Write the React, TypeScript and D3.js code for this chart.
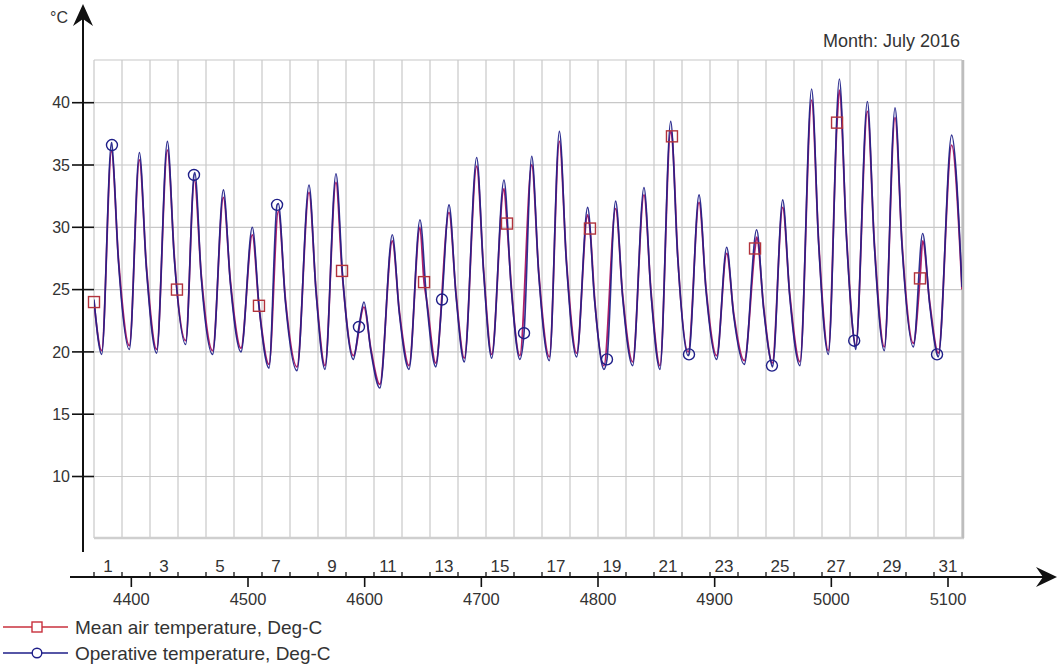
import * as d3 from "d3";

// hour-of-year where July 2016 starts (leap year: 182 days * 24)
const monthStartHour = 4368;
const monthEndHour = 5112;

const yTicks = [10, 15, 20, 25, 30, 35, 40];
const hourTicks = [4400, 4500, 4600, 4700, 4800, 4900, 5000, 5100];
const dayLabels = [1, 3, 5, 7, 9, 11, 13, 15, 17, 19, 21, 23, 25, 27, 29, 31];

// operative temperature: troughs, peaks and falling-limb points (hours since July 1)
const operativeHours = [
  0, 6.6, 15, 21, 30.3, 38.9, 44.9, 53.7, 62.9, 68.9, 78.6, 86.4, 92, 101.7, 110.9, 116.9,
  126, 135.7, 141.7, 150, 158, 164, 174, 184.3, 190.3, 198, 207.4, 213.4, 222.3, 231.4, 237.4,
  245, 255.7, 261.7, 270, 279.4, 285.4, 292.9, 304.3, 310.3, 317.4, 328, 334, 340.9, 351.4,
  357.4, 365, 375.2, 381.2, 390.3, 398.9, 404.9, 413.7, 423.1, 429.1, 437.1, 447.1, 453.1,
  461.7, 471.4, 477.4, 485.1, 494.3, 500.3, 509.4, 518.6, 524.6, 533.7, 542.3, 548.3, 557.4,
  568, 574, 581.6, 590.3, 596.3, 605.1, 615.1, 621.1, 629.4, 638.9, 644.9, 652.9, 662.9,
  668.9, 677.4, 686.6, 692.6, 702.3, 710.3, 716.3, 723.7, 735.1, 744,
];
const operativeTemps = [
  24.2, 19.8, 36.8, 27.2, 20.2, 36.0, 26.7, 19.9, 36.9, 27.4, 20.6, 34.4, 25.9, 19.8, 33.0, 25.5,
  20.0, 30.0, 23.4, 18.7, 31.9, 24.1, 18.5, 33.4, 24.8, 18.6, 34.3, 25.7, 19.4, 24.0, 20.0,
  17.1, 29.4, 23.1, 18.6, 30.6, 23.8, 18.8, 31.8, 24.5, 19.2, 35.6, 26.3, 19.5, 33.8,
  25.4, 19.4, 35.7, 26.2, 19.3, 37.7, 27.2, 19.6, 31.6, 24.1, 18.6, 32.1, 24.4,
  18.9, 33.2, 24.7, 18.6, 38.5, 27.6, 19.7, 32.6, 24.9, 19.4, 28.4, 22.9, 19.0,
  29.8, 23.4, 18.8, 32.2, 24.5, 18.9, 41.1, 28.7, 19.8, 41.9, 29.3, 20.2, 40.1,
  28.5, 20.1, 39.6, 28.5, 20.4, 29.5, 23.8, 19.6, 37.4, 25.2,
];
const operativeMarkerHours = [15.4, 85.7, 156.9, 227.1, 298.3, 368.6, 439.7, 510, 581.1, 651.6, 722.6];
const operativeMarkerTemps = [36.6, 34.2, 31.8, 22.0, 24.2, 21.5, 19.4, 19.8, 18.9, 20.9, 19.8];

// mean air temperature
const airHours = [
  6.6, 15, 21, 30.3, 38.9, 44.9, 53.7, 62.9, 68.9, 78.6, 86, 92, 101.7, 110.9, 116.9,
  126, 135.7, 150, 158, 164, 174, 184.3, 190.3, 198, 207.4, 222.3, 231.4, 237.4,
  245, 255.7, 261.7, 270, 279.4, 285.4, 292.9, 304.3, 310.3, 317.4, 328, 334, 340.9, 351.4,
  357.4, 365, 375.2, 381.2, 390.3, 398.9, 404.9, 413.7, 423.1, 429.1, 437.1, 447.1, 453.1,
  461.7, 471.4, 477.4, 485.1, 494.3, 500.3, 509.4, 518.6, 524.6, 533.7, 542.3, 548.3, 557.4,
  568, 574, 581.4, 590.3, 596.3, 605.1, 615.1, 621.1, 629.4, 638.9, 644.9, 652.9, 662.9,
  668.9, 677.4, 686.6, 692.6, 702.3, 710.3, 716.3, 723.7, 735.1, 744,
];
const airTemps = [
  20.1, 36.1, 27.4, 20.5, 35.4, 26.9, 20.2, 36.2, 27.6, 20.9, 33.8, 26.1, 20.1, 32.4, 25.7,
  20.3, 29.4, 19.0, 31.3, 24.3, 18.8, 32.8, 25.0, 18.9, 33.6, 19.7, 23.6, 20.2,
  17.4, 28.9, 23.3, 18.9, 30.0, 24.0, 19.1, 31.2, 24.7, 19.5, 34.9, 26.5, 19.8, 33.1,
  25.6, 19.7, 35.0, 26.4, 19.6, 36.9, 27.4, 19.9, 31.0, 24.3, 18.9, 31.5, 24.6,
  19.2, 32.6, 24.9, 18.9, 37.7, 27.8, 20.0, 32.0, 25.1, 19.7, 27.9, 23.1, 19.3,
  29.2, 23.6, 19.1, 31.6, 24.7, 19.2, 40.2, 28.9, 20.1, 41.0, 29.5, 20.5, 39.3,
  28.7, 20.4, 38.8, 28.7, 20.7, 28.9, 24.0, 19.9, 36.6, 25.0,
];
const airMarkerHours = [0, 71.1, 141.4, 212.6, 282.9, 354, 425.1, 495.4, 566.6, 636.9, 708];
const airMarkerTemps = [24.0, 25.0, 23.7, 26.5, 25.6, 30.3, 29.9, 37.3, 28.3, 38.4, 25.9];

const seriesNames = ["Mean air temperature, Deg-C", "Operative temperature, Deg-C"];

const RED = "#c8303c";
const AIR_LINE = "#b0206a";
const BLUE = "#1e1e88";
const GRID = "#c8c8c8";
const TEXT = "#333";
const FONT = "'Liberation Sans', Arial, sans-serif";

type Pt = { h: number; v: number };

const toPoints = (hs: number[], vs: number[]): Pt[] => hs.map((h, i) => ({ h, v: vs[i] }));

export default function App() {
  const width = 1057;
  const height = 670;
  const plot = { left: 94, right: 962, top: 60, bottom: 538 };

  const x = d3.scaleLinear().domain([monthStartHour, monthEndHour]).range([plot.left, plot.right]);
  const y = d3.scaleLinear().domain([10, 40]).range([476.5, 102.7]);

  const airMarkers = toPoints(airMarkerHours, airMarkerTemps);
  const opMarkers = toPoints(operativeMarkerHours, operativeMarkerTemps);
  const airData = d3.sort([...toPoints(airHours, airTemps), ...airMarkers], (d) => d.h);
  const opData = d3.sort([...toPoints(operativeHours, operativeTemps), ...opMarkers], (d) => d.h);

  const line = d3
    .line<Pt>()
    .x((d) => x(d.h + monthStartHour))
    .y((d) => y(d.v))
    .curve(d3.curveMonotoneX);

  const dayBounds = d3.range(0, 32).map((d) => monthStartHour + d * 24);
  const axisY = 577;
  const axisX = 83;

  return (
    <div style={{ position: "absolute", left: 0, top: 0 }}>
      <svg width={width} height={height} style={{ display: "block", background: "#fff" }} fontFamily={FONT}>
        <defs>
          <clipPath id="plotClip">
            <rect x={plot.left} y={plot.top} width={plot.right - plot.left} height={plot.bottom - plot.top} />
          </clipPath>
        </defs>

        {/* grid */}
        {dayBounds.map((h) => (
          <line key={`v${h}`} x1={x(h)} x2={x(h)} y1={plot.top} y2={plot.bottom} stroke={GRID} strokeWidth={1.2} />
        ))}
        {yTicks.map((t) => (
          <line key={`h${t}`} x1={plot.left} x2={plot.right} y1={y(t)} y2={y(t)} stroke={GRID} strokeWidth={1.2} />
        ))}
        <line x1={plot.left} x2={plot.right} y1={plot.top} y2={plot.top} stroke={GRID} strokeWidth={1.2} />
        <line x1={plot.left} x2={plot.right + 2} y1={plot.bottom} y2={plot.bottom} stroke="#cfcfcf" strokeWidth={2.5} />
        <line x1={plot.right + 1} x2={plot.right + 1} y1={plot.top} y2={plot.bottom} stroke="#bdbdbd" strokeWidth={2.5} />

        <text x={960} y={47} textAnchor="end" fontSize={18} fill={TEXT}>
          Month: July 2016
        </text>

        {/* series */}
        <g clipPath="url(#plotClip)">
          <path d={line(airData) ?? ""} fill="none" stroke={AIR_LINE} strokeWidth={1.8} />
          <path d={line(opData) ?? ""} fill="none" stroke={BLUE} strokeWidth={1.6} strokeOpacity={0.92} />
        </g>
        {airMarkers.map((d, i) => (
          <rect
            key={`sq${i}`}
            x={x(d.h + monthStartHour) - 5.5}
            y={y(d.v) - 5.5}
            width={11}
            height={11}
            fill="none"
            stroke="#b2333c"
            strokeWidth={1.4}
          />
        ))}
        {opMarkers.map((d, i) => (
          <circle
            key={`c${i}`}
            cx={x(d.h + monthStartHour)}
            cy={y(d.v)}
            r={5.5}
            fill="none"
            stroke={BLUE}
            strokeWidth={1.4}
          />
        ))}

        {/* y axis */}
        <line x1={axisX} x2={axisX} y1={14} y2={552} stroke="#111" strokeWidth={2} />
        <path d={`M${axisX},4 L${axisX + 10},26 L${axisX},19 L${axisX - 10},26 Z`} fill="#111" />
        <text x={68} y={23} textAnchor="end" fontSize={16} fill={TEXT}>
          °C
        </text>
        {yTicks.map((t) => (
          <g key={`yt${t}`}>
            <line x1={72} x2={plot.left} y1={y(t)} y2={y(t)} stroke="#111" strokeWidth={1.6} />
            <text x={70} y={y(t)} dy="0.35em" textAnchor="end" fontSize={16} fill={TEXT}>
              {t}
            </text>
          </g>
        ))}

        {/* x axis */}
        <line x1={70} x2={1048} y1={axisY} y2={axisY} stroke="#111" strokeWidth={2} />
        <path d={`M1057,${axisY} L1036,${axisY - 10} L1043,${axisY} L1036,${axisY + 10} Z`} fill="#111" />
        {dayBounds.map((h) => (
          <line key={`dt${h}`} x1={x(h)} x2={x(h)} y1={axisY - 5} y2={axisY} stroke="#111" strokeWidth={1.3} />
        ))}
        {dayLabels.map((d) => (
          <text
            key={`dl${d}`}
            x={x(monthStartHour + (d - 1) * 24 + 12)}
            y={572}
            textAnchor="middle"
            fontSize={17}
            fill={TEXT}
          >
            {d}
          </text>
        ))}
        {hourTicks.map((t) => (
          <g key={`ht${t}`}>
            <line x1={x(t)} x2={x(t)} y1={axisY} y2={axisY + 10} stroke="#111" strokeWidth={1.6} />
            <text x={x(t)} y={605} textAnchor="middle" fontSize={16.5} fill={TEXT}>
              {t}
            </text>
          </g>
        ))}

        {/* legend */}
        <line x1={3} x2={68} y1={627} y2={627} stroke={RED} strokeWidth={1.4} />
        <rect x={32} y={622} width={10} height={10} fill="#fff" stroke={RED} strokeWidth={1.4} />
        <text x={75} y={634} fontSize={19} fill={TEXT}>
          {seriesNames[0]}
        </text>
        <line x1={3} x2={68} y1={653} y2={653} stroke={BLUE} strokeWidth={1.4} />
        <circle cx={37} cy={653} r={4.8} fill="#fff" stroke={BLUE} strokeWidth={1.4} />
        <text x={75} y={660} fontSize={19} fill={TEXT}>
          {seriesNames[1]}
        </text>
      </svg>
    </div>
  );
}
